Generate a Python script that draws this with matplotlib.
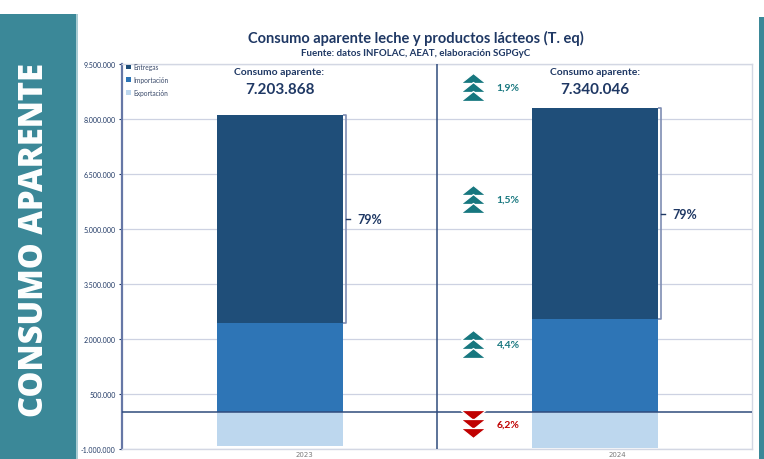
import matplotlib
matplotlib.use("Agg")
import matplotlib.pyplot as plt
from matplotlib.patches import Rectangle
import numpy as np

# ---- data ----
years = ["2023", "2024"]
entregas = [5680000, 5765000]
importacion = [2430000, 2537000]
exportacion = [-906000, -962000]
consumo_labels = ["7.203.868", "7.340.046"]
share_labels = ["79%", "79%"]
var_labels = ["1,9%", "1,5%", "4,4%", "6,2%"]
var_dirs = ["up", "up", "up", "down"]
var_levels = [8870000, 5820000, 1865000, -320000]
yticks = [-1000000, 500000, 2000000, 3500000, 5000000, 6500000, 8000000, 9500000]

C_ENT = "#1f4e79"
C_IMP = "#2e75b6"
C_EXP = "#bdd7ee"
NAVY = "#1f3864"
TEAL = "#17777f"
RED = "#c00000"
BAND = "#3b8898"

W, H = 764, 460
fig = plt.figure(figsize=(W / 100, H / 100), dpi=100)
fig.patch.set_facecolor("white")

def px(x, y):
    return x / W, 1 - y / H

# left band
fig.patches.append(Rectangle((0, 0), 76 / W, 445 / H, transform=fig.transFigure,
                             facecolor=BAND, edgecolor="none", zorder=0))
fig.patches.append(Rectangle((76 / W, 0), 2 / W, 445 / H, transform=fig.transFigure,
                             facecolor="#a9ccd3", edgecolor="none", zorder=0))
fig.patches.append(Rectangle((759 / W, 0), 5 / W, 442 / H, transform=fig.transFigure,
                             facecolor=BAND, edgecolor="none", zorder=0))
fig.text(*px(34, 240), "CONSUMO APARENTE", rotation=90, color="white",
         fontsize=23.5, fontweight="heavy", family="Open Sans", ha="center", va="center")

# titles
fig.text(*px(416, 38), "Consumo aparente leche y productos lácteos (T. eq)",
         color=NAVY, fontsize=10.5, fontweight="bold", family="Lato", ha="center", va="center")
fig.text(*px(416, 53), "Fuente: datos INFOLAC, AEAT, elaboración SGPGyC",
         color=NAVY, fontsize=7, fontweight="bold", family="Lato", ha="center", va="center")

ax = fig.add_axes([122 / W, 10 / H, 630 / W, 385 / H])
ax.set_xlim(0, 2)
ax.set_ylim(-1000000, 9500000)

x = np.array([0.5, 1.5])
bw = 0.4
ax.bar(x, entregas, bw, bottom=importacion, color=C_ENT, label="Entregas", zorder=3)
ax.bar(x, importacion, bw, color=C_IMP, label="Importación", zorder=3)
ax.bar(x, exportacion, bw, color=C_EXP, label="Exportación", zorder=3)

ax.set_yticks(yticks)
ax.set_yticklabels([f"{v:,.0f}".replace(",", ".") for v in yticks],
                   fontsize=5, color=NAVY, family="Lato")
ax.tick_params(axis="y", length=2.5, width=0.8, color=NAVY, pad=2)
ax.set_xticks([])
ax.grid(axis="y", color="#cdd2e2", linewidth=0.9, zorder=0)
for s in ["top", "right", "bottom"]:
    ax.spines[s].set_color("#d3d7e3")
    ax.spines[s].set_linewidth(1)
ax.spines["left"].set_color("#6677a6")
ax.spines["left"].set_linewidth(1.6)

ax.axhline(0, color="#2f4b7c", linewidth=1.1, zorder=4)
ax.axvline(1.0, color="#2f4b7c", linewidth=1.1, zorder=4)

leg = ax.legend(loc="upper left", bbox_to_anchor=(0.0, 1.012), frameon=False,
                handlelength=0.7, handleheight=0.7, handletextpad=0.4,
                labelspacing=0.85, borderaxespad=0.2, prop={"family": "Lato", "size": 4.8})
for t in leg.get_texts():
    t.set_color("#3a4a6a")

# consumo labels, brackets
for i in range(2):
    ax.text(x[i], 9300000, "Consumo aparente:", color=NAVY, fontsize=7.5,
            fontweight="bold", family="Lato", ha="center", va="center", zorder=5)
    ax.text(x[i], 8830000, consumo_labels[i], color=NAVY, fontsize=11,
            fontweight="bold", family="Lato", ha="center", va="center", zorder=5)
    lo = importacion[i]
    hi = importacion[i] + entregas[i]
    bx = x[i] + bw / 2 + 0.012
    ax.plot([bx - 0.01, bx, bx, bx - 0.01], [hi, hi, lo, lo], color="#7f8db3",
            linewidth=1.2, zorder=5, solid_capstyle="butt")
    mid = (lo + hi) / 2
    ax.plot([bx, bx + 0.012], [mid, mid], color=NAVY, linewidth=1.0, zorder=5)
    ax.text(bx + 0.036, mid, share_labels[i], color=NAVY, fontsize=9,
            fontweight="bold", family="Lato", ha="left", va="center", zorder=5)

# chevrons
up_tri = [(-1, -0.4), (1, -0.4), (0, 0.4), (-1, -0.4)]
down_tri = [(-1, 0.4), (1, 0.4), (0, -0.4), (-1, 0.4)]
step = 240000
ax_x = 1.114
for lab, d, lev in zip(var_labels, var_dirs, var_levels):
    col = TEAL if d == "up" else RED
    mk = up_tri if d == "up" else down_tri
    ys = [lev + step, lev, lev - step]
    ax.plot([ax_x] * 3, ys, linestyle="none", marker=mk, markersize=18,
            markerfacecolor=col, markeredgecolor="white", markeredgewidth=0.9, zorder=6)
    ax.text(ax_x + 0.075, lev, lab, color=col, fontsize=7.5, fontweight="bold",
            family="Lato", ha="left", va="center", zorder=6)

# year labels at bottom
fig.text(*px(304, 455), years[0], fontsize=5, color="#7a7a7a", ha="center", va="center")
fig.text(*px(617, 455), years[1], fontsize=5, color="#7a7a7a", ha="center", va="center")

fig.savefig("out.png", dpi=100, facecolor="white")
